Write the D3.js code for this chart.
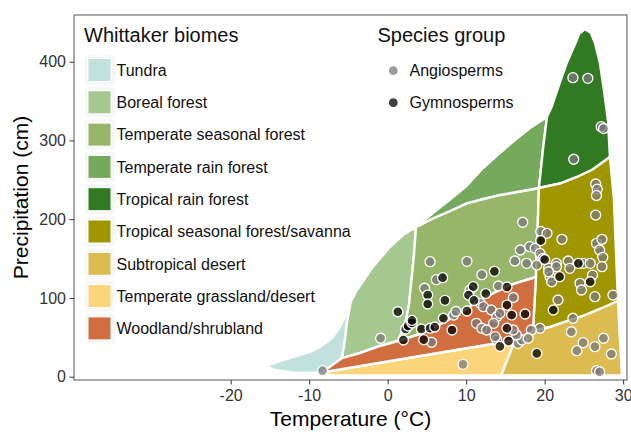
<!DOCTYPE html>
<html><head><meta charset="utf-8">
<script src="https://cdn.jsdelivr.net/npm/d3@7"></script>
<style>body{margin:0;background:#fff} text{font-family:"Liberation Sans",Arial,Helvetica,sans-serif}</style>
</head><body>
<svg id="c" width="631" height="432"></svg>
<script>
// ---- data (temperature °C, precipitation cm) ----
const biomeNames = ["Tundra","Boreal forest","Temperate seasonal forest","Temperate rain forest","Tropical rain forest","Tropical seasonal forest/savanna","Subtropical desert","Temperate grassland/desert","Woodland/shrubland"];
const biomeColors = ["#C1E1DD","#A5C790","#97B669","#75A95E","#317A22","#A09700","#DCBB50","#FCD57A","#D16E3F"];

const tundra = [[-15.5,13.6],[-14.4,8.5],[-12.1,5.3],[-9.9,4.7],[-8.37,5.3],[-5.82,23.7],[-5.44,46.6],[-5.18,69.5],[-4.71,94.9],[-5.31,78.3],[-6.08,63.1],[-7.1,49.1],[-8.62,37.7],[-9.9,31.4],[-12.06,25.0],[-13.72,19.9]];
const borealForest = [[-5.82,23.7],[-5.44,46.6],[-5.18,69.5],[-4.71,94.9],[-3.99,108.8],[-2.0,138.0],[0.29,164.7],[1.95,180.0],[3.61,190.1],[3.35,154.5],[2.97,116.4],[2.71,91.0],[2.33,72.0],[1.69,54.2],[1.31,45.3],[-0.98,39.0],[-3.53,30.1]];
const temperateSeasonalForest = [[3.61,190.1],[5.77,201.1],[7.94,210.4],[10.06,220.2],[12.14,225.6],[14.31,230.8],[16.85,235.2],[19.27,239.6],[19.1,186.3],[18.89,126.6],[15.58,116.4],[11.76,97.4],[9.21,80.9],[7.3,69.5],[4.11,54.2],[1.31,45.3],[1.69,54.2],[2.33,72.0],[2.71,91.0],[2.97,116.4],[3.35,154.5]];
const temperateRainForest = [[3.61,190.1],[5.77,207.9],[7.94,225.0],[10.1,242.8],[12.14,265.0],[14.31,284.1],[16.22,300.6],[18.13,315.8],[20.29,329.8],[19.78,287.9],[19.27,239.6],[16.85,235.2],[14.31,230.8],[12.14,225.6],[10.06,220.2],[7.94,210.4],[5.77,201.1]];
const tropicalRainForest = [[19.27,239.6],[21.94,245.3],[24.11,253.6],[26.02,262.5],[28.32,279.0],[28.06,326.0],[27.55,364.1],[27.04,398.3],[26.41,423.7],[25.9,436.5],[25.13,441.5],[24.36,435.2],[24.0,425.2],[22.8,398.0],[21.82,370.4],[20.89,342.8],[20.29,329.8],[19.78,287.9]];
const tropicalSeasonalForest = [[19.27,239.6],[21.94,245.3],[24.11,253.6],[26.02,262.5],[28.32,279.0],[28.83,224.4],[29.08,160.9],[29.34,96.1],[27.04,86.0],[24.88,77.1],[22.59,69.5],[20.68,63.1],[18.51,58.0],[18.89,126.6],[19.1,186.3]];
const subtropicalDesert = [[16.22,46.6],[18.51,58.0],[20.68,63.1],[22.59,69.5],[24.88,77.1],[27.04,86.0],[29.34,96.1],[29.59,46.6],[29.85,1.5],[14.43,1.5]];
const temperateGrassland = [[-8.37,5.3],[4.11,26.3],[11.76,39.0],[16.22,46.6],[14.43,1.5],[-7.3,2.0]];
const woodlandShrubland = [[-8.37,5.3],[-5.82,23.7],[-3.53,30.1],[-0.98,39.0],[1.31,45.3],[4.11,54.2],[7.3,69.5],[9.21,80.9],[11.76,97.4],[15.58,116.4],[18.89,126.6],[18.51,58.0],[16.22,46.6],[11.76,39.0],[4.11,26.3]];
const biomePolys = [tundra,borealForest,temperateSeasonalForest,temperateRainForest,tropicalRainForest,tropicalSeasonalForest,subtropicalDesert,temperateGrassland,woodlandShrubland];

const angiosperms = [[23.6,379.7],[25.5,378.9],[27.2,317.5],[27.5,315.2],[23.7,276.1],[26.5,244.7],[26.7,238.3],[26.6,230.1],[26.5,205.3],[26.6,169.4],[27.3,174.5],[27.0,160.9],[27.4,151.6],[27.3,139.7],[22.2,174.5],[19.5,184.4],[20.3,182.1],[17.2,196.1],[16.9,160.9],[18.1,165.1],[18.8,163.0],[19.4,156.7],[19.8,150.3],[16.2,146.9],[17.7,144.0],[19.0,141.8],[20.5,137.6],[21.5,144.0],[23.0,146.9],[24.9,144.0],[25.8,144.0],[20.7,127.0],[20.9,120.6],[24.5,118.6],[24.7,110.1],[26.1,129.1],[26.4,101.6],[28.7,103.7],[21.7,97.4],[23.6,74.2],[21.5,139.7],[23.2,137.6],[20.5,133.3],[23.4,57.1],[19.4,61.5],[18.3,59.3],[27.5,48.8],[24.9,43.2],[26.4,38.1],[24.1,33.0],[28.5,28.8],[26.6,7.6],[27.0,6.3],[16.6,42.4],[17.1,46.6],[17.9,48.8],[16.4,53.0],[5.4,146.0],[10.1,146.5],[6.2,123.2],[12.0,129.5],[4.7,112.3],[-0.9,48.8],[5.6,43.7],[8.4,78.3],[8.7,82.8],[9.6,15.7],[10.5,110.1],[11.8,93.2],[12.2,88.9],[13.2,84.7],[13.9,76.2],[14.3,80.5],[13.5,67.8],[11.3,67.8],[12.0,61.5],[14.1,115.2],[16.0,100.6],[13.9,46.6],[16.0,59.3],[12.6,59.3],[13.7,50.8],[-8.3,7.6]];
const gymnosperms = [[19.5,172.9],[20.0,148.8],[24.3,144.0],[21.9,127.0],[25.8,120.6],[21.1,84.7],[19.0,29.7],[7.0,125.7],[13.6,133.8],[5.1,103.7],[5.1,92.3],[7.3,97.0],[1.3,82.5],[2.0,46.6],[2.3,60.6],[2.6,64.4],[3.1,68.2],[3.1,71.4],[4.3,60.6],[4.6,47.0],[5.4,61.5],[6.0,63.1],[7.1,74.2],[8.2,59.3],[10.9,114.3],[10.3,103.7],[11.0,96.8],[12.5,105.6],[10.1,83.4],[15.2,91.0],[15.8,78.3],[17.5,79.6],[15.2,113.9],[14.3,38.6],[15.4,45.3],[15.2,61.5]];
const groupNames = ["Angiosperms","Gymnosperms"];
const groupColors = ["#7a7a7a","#000000"];

const xTicks = [-20,-10,0,10,20,30];
const yTicks = [0,100,200,300,400];

// ---- drawing ----
const svg = d3.select("#c");
const L=74,R=627,T=15,B=380;
const x = d3.scaleLinear().domain([-39.96,30.49]).range([L,R]);
const y = d3.scaleLinear().domain([-4.19,459.3]).range([B,T]);

const biomes = biomeNames.map((n,i)=>({name:n,color:biomeColors[i],poly:biomePolys[i]}));
const line = d3.line().x(d=>x(d[0])).y(d=>y(d[1])).curve(d3.curveLinearClosed);

svg.append("g").selectAll("path").data(biomes).join("path")
  .attr("d",d=>line(d.poly)).attr("fill",d=>d.color)
  .attr("stroke","#fff").attr("stroke-width",2.4).attr("stroke-linejoin","round");

const pts = [].concat(angiosperms.map(p=>({p,g:0})), gymnosperms.map(p=>({p,g:1})));
svg.append("g").selectAll("circle").data(pts).join("circle")
  .attr("cx",d=>x(d.p[0])).attr("cy",d=>y(d.p[1])).attr("r",5.0)
  .attr("fill",d=>groupColors[d.g]).attr("fill-opacity",0.75)
  .attr("stroke","#fff").attr("stroke-width",1.3);

// panel border
svg.append("rect").attr("x",L).attr("y",T).attr("width",R-L).attr("height",B-T)
  .attr("fill","none").attr("stroke","#555").attr("stroke-width",1);

// axes
const fmt = d=>String(d);
const ax = svg.append("g").attr("transform",`translate(0,${B})`)
  .call(d3.axisBottom(x).tickValues(xTicks).tickSize(4.5).tickPadding(5.5).tickFormat(fmt));
const ay = svg.append("g").attr("transform",`translate(${L},0)`)
  .call(d3.axisLeft(y).tickValues(yTicks).tickSize(4.5).tickPadding(3.5).tickFormat(fmt));
[ax,ay].forEach(g=>{
  g.select(".domain").remove();
  g.selectAll(".tick line").attr("stroke","#333");
  g.selectAll(".tick text").attr("fill","#333").style("font-size","16px").style("font-family","Liberation Sans, Arial, sans-serif");
});

svg.append("text").attr("x",(L+R)/2).attr("y",426).attr("text-anchor","middle")
  .style("font-size","21px").attr("fill","#000").text("Temperature (°C)");
svg.append("text").attr("transform",`translate(28,${(T+B)/2}) rotate(-90)`).attr("text-anchor","middle")
  .style("font-size","21px").attr("fill","#000").text("Precipitation (cm)");

// biome legend
const lg = svg.append("g");
lg.append("text").attr("x",84).attr("y",41.5).style("font-size","20px").attr("fill","#111").text("Whittaker biomes");
const rows = lg.selectAll("g.k").data(biomes).join("g").attr("class","k")
  .attr("transform",(d,i)=>`translate(0,${70+i*32.3})`);
rows.append("rect").attr("x",85).attr("y",-15).attr("width",30).attr("height",30).attr("fill","#f7f7f7");
rows.append("rect").attr("x",88).attr("y",-11.5).attr("width",23).attr("height",23)
  .attr("fill",d=>d.color).attr("stroke","#fff").attr("stroke-width",1);
rows.append("text").attr("x",116.5).attr("y",5.7).style("font-size","16px").attr("fill","#111").text(d=>d.name);

// species legend
const sg = svg.append("g");
sg.append("text").attr("x",377.5).attr("y",42).style("font-size","20px").attr("fill","#111").text("Species group");
const srows = sg.selectAll("g.s").data(groupNames).join("g").attr("class","s")
  .attr("transform",(d,i)=>`translate(0,${70.7+i*32})`);
srows.append("circle").attr("cx",393.3).attr("cy",0).attr("r",4.4)
  .attr("fill",(d,i)=>groupColors[i]).attr("fill-opacity",0.75);
srows.append("text").attr("x",409.5).attr("y",5.7).style("font-size","16px").attr("fill","#111").text(d=>d);
</script>
</body></html>
